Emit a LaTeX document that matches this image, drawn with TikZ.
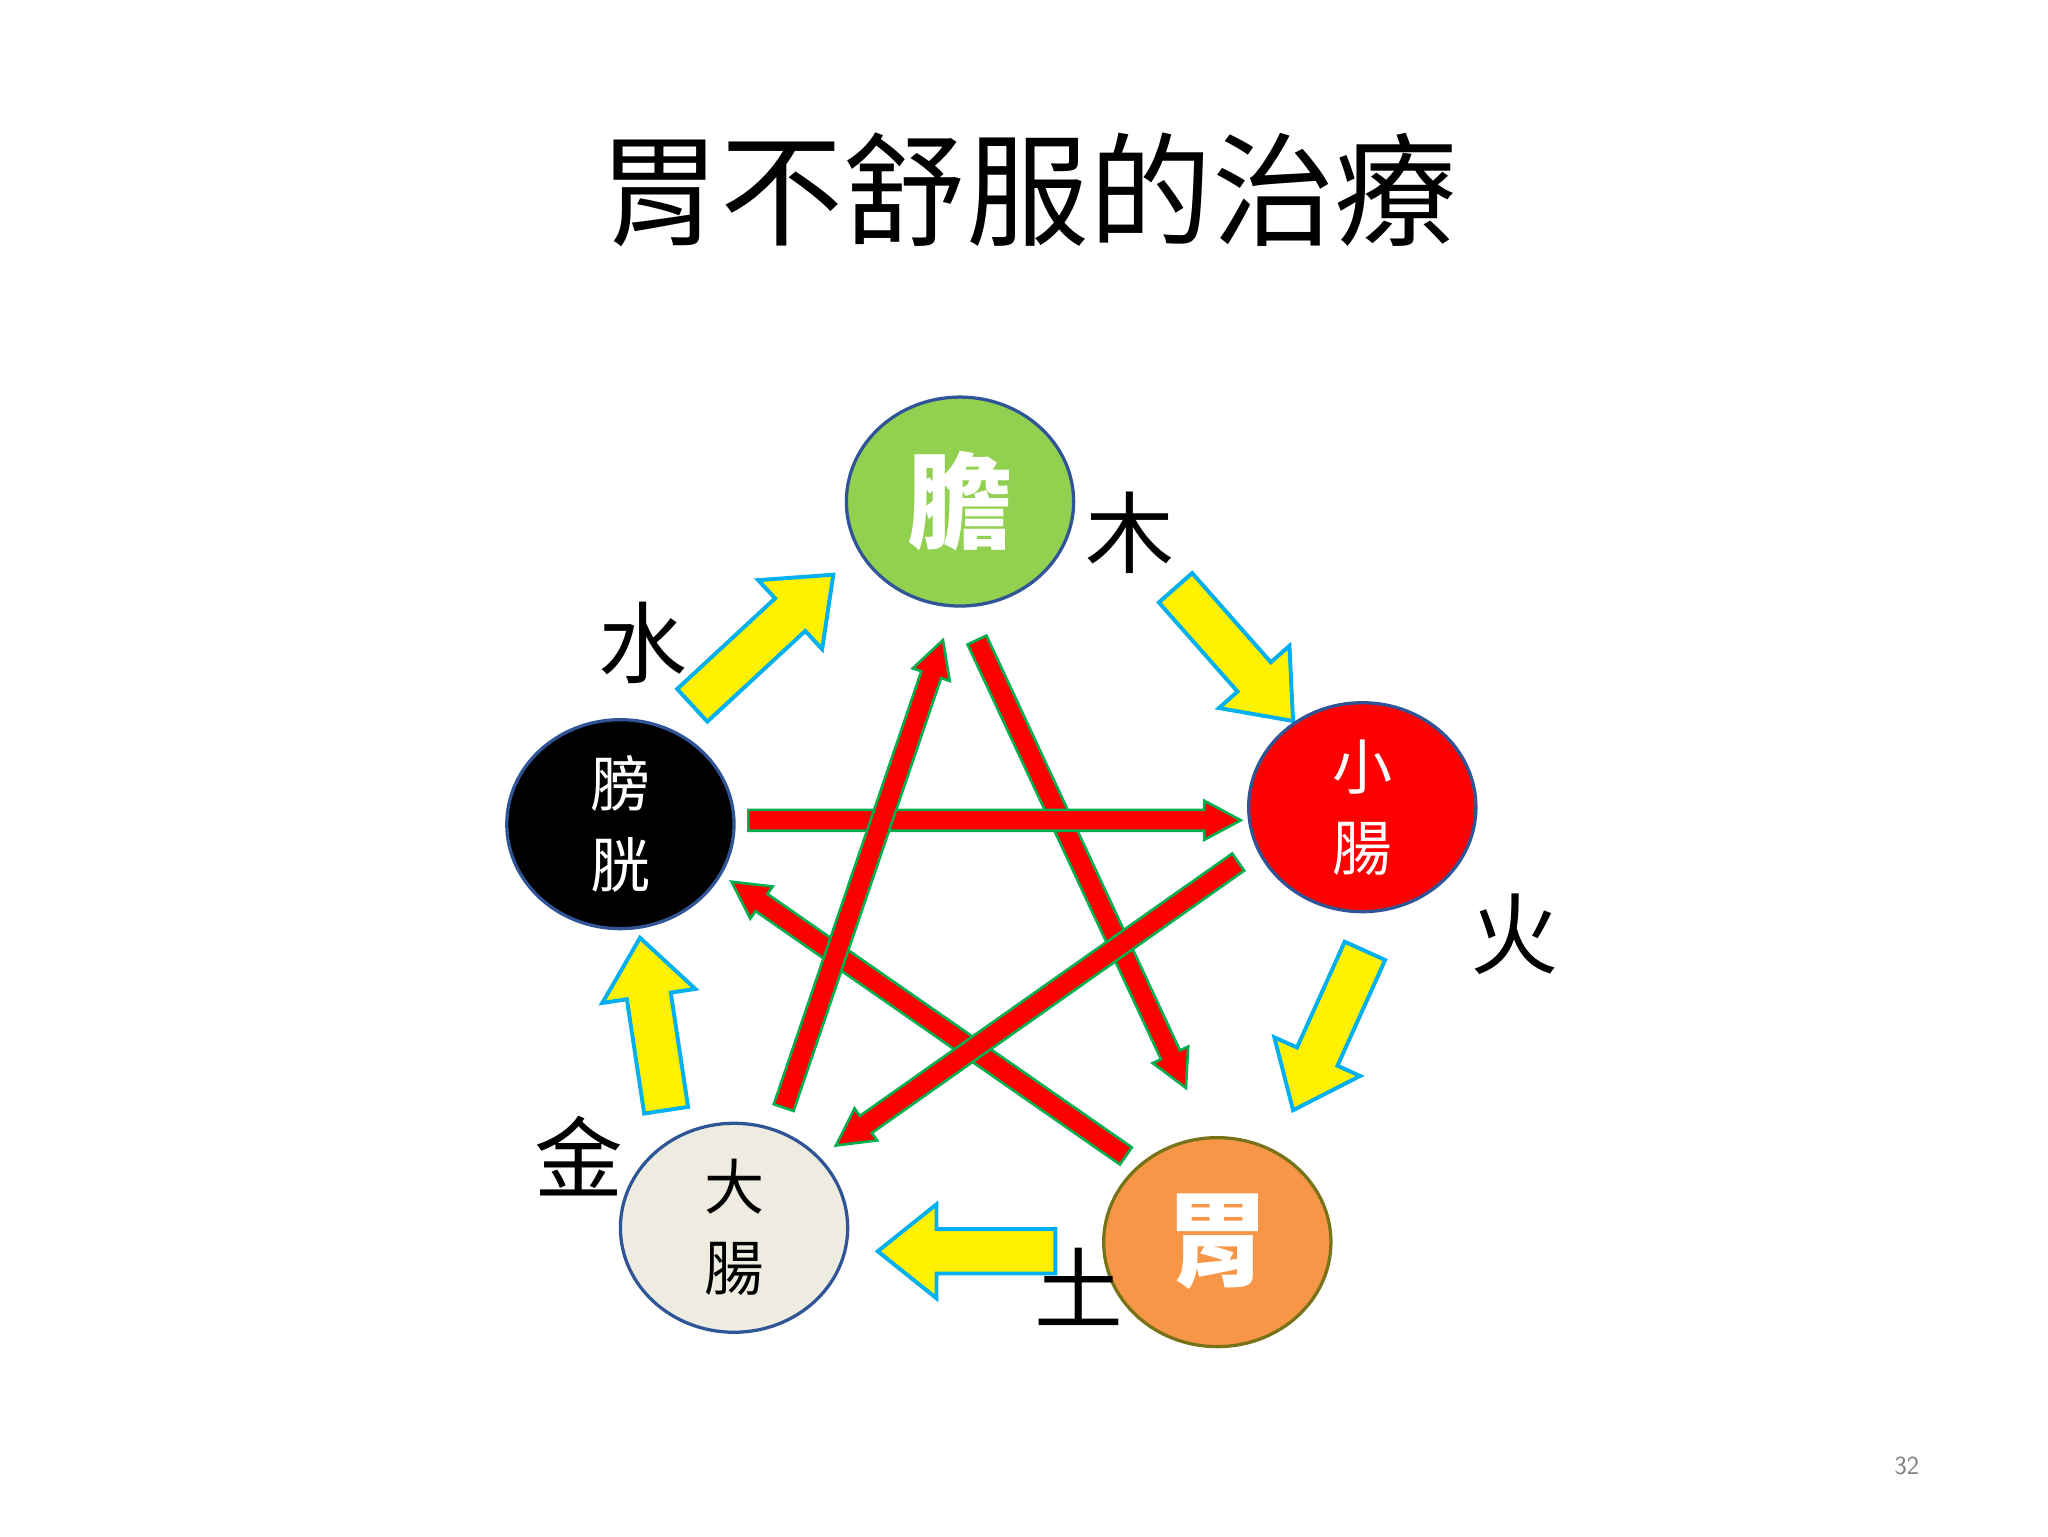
\documentclass[tikz,border=0pt]{standalone}
\usepackage{fontspec}
\newfontfamily\cjk{Noto Sans CJK TC}
\usetikzlibrary{calc,shapes.geometric}
\definecolor{ygreen}{HTML}{92D050}
\definecolor{orng}{HTML}{F79646}
\definecolor{cream}{HTML}{EEECE1}
\definecolor{edge}{HTML}{2F5597}
\definecolor{skyb}{HTML}{00B0F0}
\definecolor{grn}{HTML}{00B050}
\tikzset{
 organ/.style={ellipse,draw=edge,line width=2.5pt,minimum width=174pt,minimum height=160pt,align=center,inner sep=0pt},
 elem/.style={font=\cjk\fontsize{68}{68}\selectfont},
 gen/.style={fill=yellow,draw=skyb,line width=3pt,line join=miter},
 ctl/.style={fill=red,draw=grn,line width=2pt,line join=miter}
}
\newcommand{\fatarrow}[8]{%
 \pgfmathsetmacro\ang{atan2((#4)-(#2),(#3)-(#1))}%
 \pgfmathsetmacro\len{veclen((#3)-(#1),(#4)-(#2))}%
 \begin{scope}[shift={(#1,#2)},rotate=-\ang]
 \draw[#8] (0,-#5)--(\len-#7,-#5)--(\len-#7,-#6)--(\len,0)--(\len-#7,#6)--(\len-#7,#5)--(0,#5)--cycle;
 \end{scope}}
\begin{document}
\begin{tikzpicture}[x=1pt,y=-1pt]
\useasboundingbox[fill=white] (0,0) rectangle (1568,1176);
\node[font=\cjk\fontsize{94}{94}\selectfont] (title) at (787,145) {胃不舒服的治療};
\node[font=\sffamily\fontsize{20}{20}\selectfont,text=gray] (pg) at (1460,1122) {32};
% control arrows
\fatarrow{748}{490}{908}{833}{8}{15}{28}{ctl}
\fatarrow{862}{885}{560}{675}{8}{15}{28}{ctl}
\fatarrow{573}{628}{950}{628}{8}{15}{28}{ctl}
\fatarrow{948}{660}{640}{877}{8}{15}{28}{ctl}
\fatarrow{600}{848}{722}{490}{8}{15}{28}{ctl}
% generation arrows
\fatarrow{900}{450}{990}{552}{17}{36}{45}{gen}
\fatarrow{1045}{728}{990}{850}{17}{36}{45}{gen}
\fatarrow{808}{958}{672}{958}{17}{36}{45}{gen}
\fatarrow{510}{850}{490}{718}{17}{36}{45}{gen}
\fatarrow{530}{540}{638}{440}{17}{36}{45}{gen}
% organs
\node[organ,fill=ygreen,text=white,font=\cjk\bfseries\fontsize{80}{80}\selectfont] (dan) at (735,384) {膽};
\node[organ,fill=red,text=white,font=\cjk\fontsize{46}{62}\selectfont] (xc) at (1043,618) {小\\腸};
\node[organ,fill=orng,draw=olive!80!black,text=white,font=\cjk\bfseries\fontsize{80}{80}\selectfont] (wei) at (932,951) {胃};
\node[organ,fill=cream,text=black,font=\cjk\fontsize{46}{62}\selectfont] (dc) at (562,940) {大\\腸};
\node[organ,fill=black,text=white,font=\cjk\fontsize{46}{62}\selectfont] (pg2) at (475,631) {膀\\胱};
% elements
\node[elem] (mu) at (865,408) {木};
\node[elem] (huo) at (1160,715) {火};
\node[elem] (tu) at (826,985) {土};
\node[elem] (jin) at (443,885) {金};
\node[elem] (shui) at (492,492) {水};
\end{tikzpicture}
\end{document}
